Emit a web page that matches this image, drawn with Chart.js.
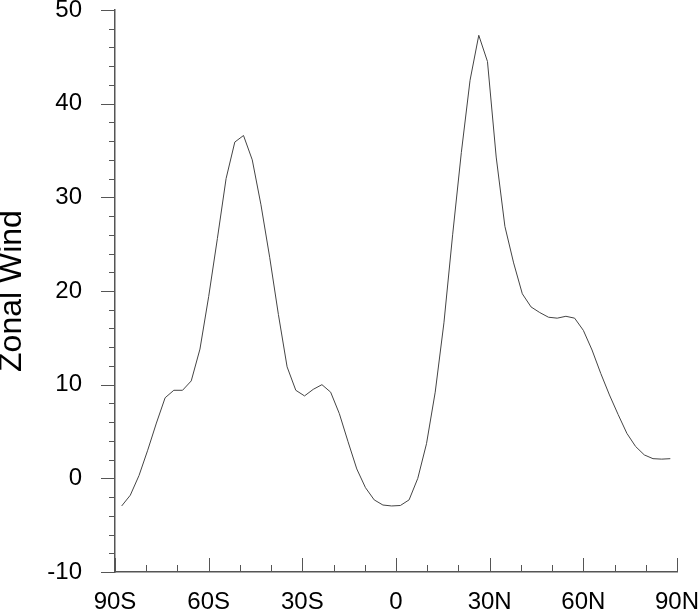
<!DOCTYPE html>
<html><head><meta charset="utf-8">
<script src="https://cdn.jsdelivr.net/npm/chart.js@4/dist/chart.umd.min.js"></script>
<style>html,body{margin:0;padding:0;background:#fff}#wrap{width:700px;height:611px;position:relative}</style>
</head><body><div id="wrap"><canvas id="c" width="700" height="611" style="width:700px;height:611px"></canvas></div>
<script>
// Gaussian-grid latitudes (degrees)
const latitudes = [-87.86,-85.10,-82.31,-79.53,-76.74,-73.95,-71.16,-68.37,-65.58,-62.79,
  -60.00,-57.21,-54.42,-51.63,-48.84,-46.04,-43.25,-40.46,-37.67,-34.88,
  -32.09,-29.30,-26.51,-23.72,-20.93,-18.14,-15.35,-12.56,-9.77,-6.98,-4.19,-1.40,
  1.40,4.19,6.98,9.77,12.56,15.35,18.14,20.93,23.72,26.51,29.30,32.09,34.88,37.67,
  40.46,43.25,46.04,48.84,51.63,54.42,57.21,60.00,62.79,65.58,68.37,71.16,73.95,
  76.74,79.53,82.31,85.10,87.86];
const zonalWind = [-2.95,-1.8,0.3,3.0,5.9,8.6,9.4,9.4,10.4,13.8,
  19.4,25.6,32.0,35.9,36.6,34.0,29.2,23.6,17.5,11.9,
  9.4,8.8,9.5,10.0,9.2,6.9,3.9,1.0,-1.0,-2.3,-2.85,-2.95,
  -2.9,-2.3,0.0,3.7,9.2,16.6,26.0,34.8,42.5,47.3,44.5,34.3,26.9,23.0,
  19.7,18.3,17.7,17.2,17.1,17.3,17.1,15.8,13.7,11.2,8.9,6.8,4.8,
  3.4,2.5,2.1,2.05,2.1];
const xTickValues = [-90,-60,-30,0,30,60,90];
const xTickLabels = ['90S','60S','30S','0','30N','60N','90N'];
const yTickValues = [-10,0,10,20,30,40,50];
const yTickLabels = ['-10','0','10','20','30','40','50'];
const yAxisTitle = 'Zonal Wind';

const FONT = "'Liberation Sans', Arial, Helvetica, sans-serif";
const AXIS_COLOR = '#555';

const tickMarks = {
  id: 'tickMarks',
  afterDraw(chart) {
    const {ctx, chartArea: a, scales: {x, y}} = chart;
    ctx.save();
    ctx.strokeStyle = AXIS_COLOR; ctx.lineWidth = 1;
    ctx.beginPath();
    for (let v = y.min; v <= y.max; v += 2) {
      const py = Math.round(y.getPixelForValue(v)) + 0.5;
      const len = (v % 10 === 0) ? 14 : 6;
      ctx.moveTo(a.left - len, py); ctx.lineTo(a.left, py);
    }
    for (let v = x.min; v <= x.max; v += 10) {
      const px = Math.round(x.getPixelForValue(v)) + 0.5;
      const len = (v % 30 === 0) ? 14 : 7;
      ctx.moveTo(px, a.bottom); ctx.lineTo(px, a.bottom - len);
    }
    ctx.stroke(); ctx.restore();
  }
};

function zeroPad(s) { s.paddingTop = 0; s.paddingBottom = 0; s.paddingLeft = 0; s.paddingRight = 0; }

new Chart(document.getElementById('c'), {
  type: 'line',
  data: {
    datasets: [{
      data: latitudes.map((lat, i) => ({x: lat, y: zonalWind[i]})),
      borderColor: '#444', borderWidth: 1, pointRadius: 0, tension: 0, fill: false
    }]
  },
  options: {
    responsive: false, animation: false,
    layout: {padding: {top: 10, right: 23, left: 0, bottom: 0}},
    plugins: {legend: {display: false}, tooltip: {enabled: false}},
    scales: {
      x: {
        type: 'linear', min: -90, max: 90,
        afterBuildTicks: s => { s.ticks = xTickValues.map(v => ({value: v})); },
        afterFit: s => { s.height = 39; zeroPad(s); },
        grid: {display: false, drawTicks: false, tickLength: 0},
        border: {display: true, color: AXIS_COLOR, width: 1.5},
        ticks: {
          color: '#000', padding: 16, maxRotation: 0, autoSkip: false,
          font: {family: FONT, size: 24},
          callback: v => xTickLabels[xTickValues.indexOf(v)]
        }
      },
      y: {
        type: 'linear', min: -10, max: 50,
        afterBuildTicks: s => { s.ticks = yTickValues.map(v => ({value: v})); },
        afterFit: s => { s.width = 115; zeroPad(s); },
        grid: {display: false, drawTicks: false, tickLength: 0},
        border: {display: true, color: AXIS_COLOR, width: 1.5},
        ticks: {
          color: '#000', padding: 33,
          font: {family: FONT, size: 24},
          callback: v => yTickLabels[yTickValues.indexOf(v)]
        },
        title: {
          display: true, text: yAxisTitle, color: '#000',
          font: {family: FONT, size: 32, lineHeight: 0.75}, padding: 0
        }
      }
    }
  },
  plugins: [tickMarks]
});
</script>
</body></html>
